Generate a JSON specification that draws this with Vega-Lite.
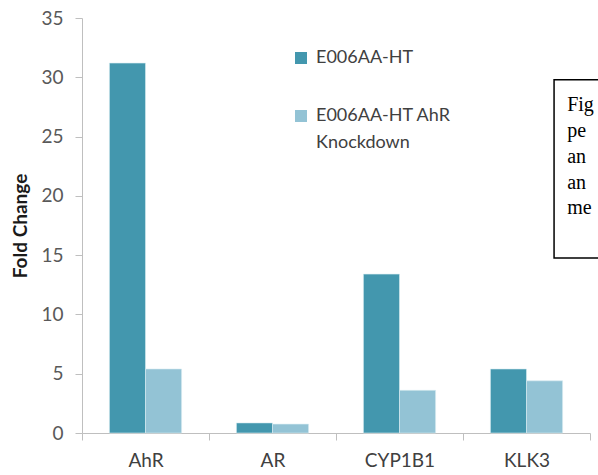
{
  "$schema": "https://vega.github.io/schema/vega-lite/v6.json",
  "width": 508,
  "height": 415,
  "autosize": {"type": "none"},
  "padding": {"left": 82, "top": 18, "right": 8, "bottom": 42},
  "background": "white",
  "config": {
    "view": {"stroke": null},
    "font": "Lato",
    "style": {"guide-label": {"lineHeight": 27}},
    "axis": {"grid": false, "domainColor": "#bfbfbf", "tickColor": "#bfbfbf", "labelColor": "#404040", "labelFont": "Lato", "labelFontSize": 19}
  },
  "layer": [
    {
      "data": {"values": [
        {"gene": "AhR", "series": "E006AA-HT", "fold": 31.2},
        {"gene": "AhR", "series": "E006AA-HT AhR Knockdown", "fold": 5.4},
        {"gene": "AR", "series": "E006AA-HT", "fold": 0.85},
        {"gene": "AR", "series": "E006AA-HT AhR Knockdown", "fold": 0.75},
        {"gene": "CYP1B1", "series": "E006AA-HT", "fold": 13.4},
        {"gene": "CYP1B1", "series": "E006AA-HT AhR Knockdown", "fold": 3.6},
        {"gene": "KLK3", "series": "E006AA-HT", "fold": 5.4},
        {"gene": "KLK3", "series": "E006AA-HT AhR Knockdown", "fold": 4.4}
      ]},
      "mark": {"type": "bar", "stroke": "#d8ecf2", "strokeWidth": 0.6},
      "encoding": {
        "x": {"field": "gene", "type": "nominal",
          "scale": {"domain": ["AhR", "AR", "CYP1B1", "KLK3"], "paddingInner": 0, "paddingOuter": 0},
          "axis": {"title": null, "labelAngle": 0, "tickBand": "extent", "tickSize": 7, "labelPadding": 11, "labelFontSize": 19}},
        "xOffset": {"field": "series", "type": "nominal",
          "scale": {"domain": ["E006AA-HT", "E006AA-HT AhR Knockdown"], "paddingInner": 0, "paddingOuter": 0.76}},
        "y": {"field": "fold", "type": "quantitative",
          "scale": {"domain": [0, 35], "nice": false},
          "axis": {"title": "Fold Change", "titleFont": "Lato", "titleFontSize": 19, "titleFontWeight": "bold", "titleColor": "#1a1a1a", "titlePadding": 10,
            "values": [0, 5, 10, 15, 20, 25, 30, 35], "tickSize": 7, "labelPadding": 12, "labelColor": "#595959"}},
        "color": {"field": "series", "type": "nominal",
          "scale": {"domain": ["E006AA-HT", "E006AA-HT AhR Knockdown"], "range": ["#4397ae", "#93c3d5"]},
          "legend": {"title": null, "orient": "none", "legendX": 210, "legendY": 31, "symbolType": "square", "symbolSize": 144, "symbolStrokeWidth": 0,
            "labelFont": "Lato", "labelFontSize": 18, "labelColor": "#404040", "labelLimit": 300, "rowPadding": 40, "labelOffset": 6,
            "labelExpr": "datum.label == 'E006AA-HT AhR Knockdown' ? ['E006AA-HT AhR', 'Knockdown'] : datum.label"}}
      }
    },
    {
      "data": {"values": [{"gene": "KLK3", "top": 29.8, "bottom": 14.75}]},
      "mark": {"type": "rect", "fill": "white", "stroke": "black", "strokeWidth": 1.5},
      "encoding": {
        "x": {"field": "gene", "type": "nominal", "bandPosition": 0.717},
        "x2": {"field": "gene", "bandPosition": 1.5},
        "y": {"field": "top", "type": "quantitative"},
        "y2": {"field": "bottom"}
      }
    },
    {
      "data": {"values": [
        {"gene": "KLK3", "line": "Fig", "pos": 27.66},
        {"gene": "KLK3", "line": "pe", "pos": 25.46},
        {"gene": "KLK3", "line": "an", "pos": 23.27},
        {"gene": "KLK3", "line": "an", "pos": 21.08},
        {"gene": "KLK3", "line": "me", "pos": 18.97}
      ]},
      "mark": {"type": "text", "align": "left", "baseline": "middle", "font": "Liberation Serif", "fontSize": 20, "color": "black"},
      "encoding": {
        "x": {"field": "gene", "type": "nominal", "bandPosition": 0.82},
        "y": {"field": "pos", "type": "quantitative"},
        "text": {"field": "line"}
      }
    }
  ]
}
